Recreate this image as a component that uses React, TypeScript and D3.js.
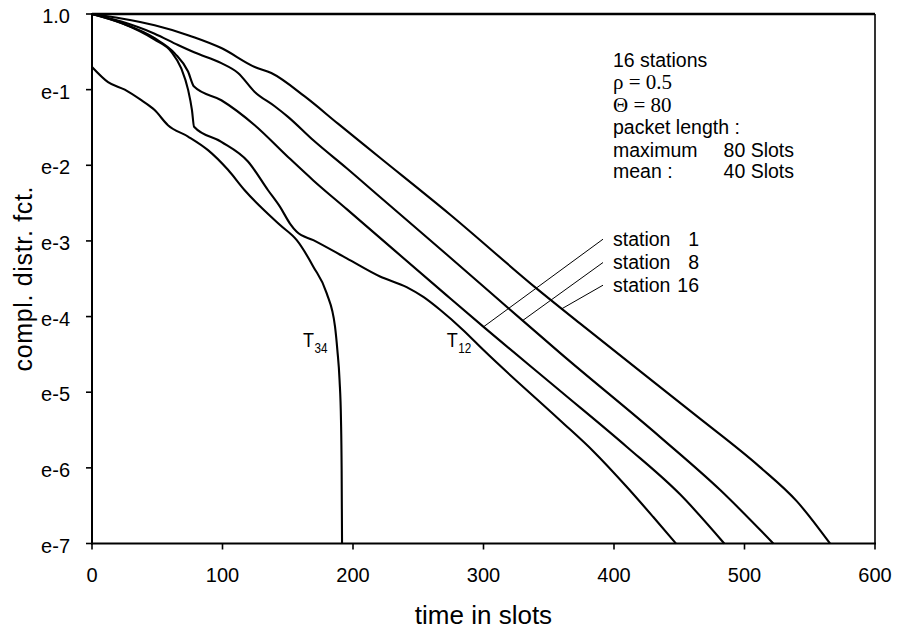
import React from "react";
import * as d3 from "d3";

// ---- data: time in slots (x) and log10 of compl. distr. fct. (y exponent) ----
const station16X = [0, 22.5, 48, 73.6, 78.7, 99.1, 124.7, 137.4, 163, 188.5, 220.7, 274.3, 340.8, 373.9, 460.8, 511.9, 540, 565.5];
const station16Y = [0, -0.06, -0.15, -0.28, -0.31, -0.45, -0.70, -0.78, -1.09, -1.45, -1.90, -2.65, -3.63, -4.09, -5.28, -5.99, -6.44, -7];

const station8X = [0, 22.5, 48, 65.9, 78.7, 99.1, 111.9, 124.7, 140, 150.2, 169.6, 195.2, 220.7, 271.8, 330.5, 358.6, 435.2, 481.2, 522.1];
const station8Y = [0, -0.10, -0.26, -0.41, -0.51, -0.65, -0.78, -1.03, -1.22, -1.36, -1.67, -2.04, -2.42, -3.18, -4.06, -4.48, -5.59, -6.29, -7];

const station1X = [0, 22.5, 48, 63.4, 73.6, 78.2, 99.1, 124.7, 150.2, 169.6, 195.2, 220.7, 271.8, 299.6, 358.6, 409.7, 450.6, 484.5];
const station1Y = [0, -0.12, -0.32, -0.52, -0.76, -0.96, -1.14, -1.47, -1.89, -2.20, -2.58, -2.96, -3.72, -4.13, -4.98, -5.72, -6.35, -7];

const t12X = [0, 22.5, 48, 60.8, 68.4, 73.6, 76.6, 78.2, 99.1, 119.5, 134.9, 144.1, 151.7, 156.9, 169.6, 195.2, 220.7, 241.1, 253.9, 266.7, 284.5, 299.8, 358.6, 384.1, 409.7, 430.1, 447.5];
const t12Y = [0, -0.12, -0.34, -0.50, -0.72, -1.00, -1.27, -1.49, -1.69, -1.95, -2.33, -2.55, -2.77, -2.88, -2.99, -3.23, -3.47, -3.61, -3.74, -3.91, -4.18, -4.44, -5.37, -5.78, -6.25, -6.65, -7];

const t34X = [0, 12.3, 25.1, 37.8, 48, 58.2, 73.6, 88.9, 104.2, 117, 144.1, 156.9, 169.6, 179.8, 186.2, 188, 189.7, 190.8, 191.3, 191.6];
const t34Y = [-0.70, -0.90, -1.00, -1.14, -1.27, -1.47, -1.62, -1.80, -2.06, -2.33, -2.79, -2.99, -3.34, -3.69, -4.13, -4.44, -4.84, -5.37, -6.03, -7];

const xTicks = [0, 100, 200, 300, 400, 500, 600];
const yTicks = [0, -1, -2, -3, -4, -5, -6, -7];
const yTickLabels = ["1.0", "e-1", "e-2", "e-3", "e-4", "e-5", "e-6", "e-7"];

const stationLabels = ["1", "8", "16"];
const stationLeaderSlots = [300, 330, 360];

const SANS = "Arial, 'Liberation Sans', Helvetica, sans-serif";
const SERIF = "'Times New Roman', 'Liberation Serif', Times, serif";

type Pt = [number, number];
const zip = (xs: number[], ys: number[]): Pt[] => xs.map((x, i) => [x, ys[i]]);

const interp = (pts: Pt[], x: number) => {
  for (let i = 1; i < pts.length; i++) {
    if (pts[i][0] >= x) {
      const [x0, y0] = pts[i - 1];
      const [x1, y1] = pts[i];
      return y0 + ((y1 - y0) * (x - x0)) / (x1 - x0);
    }
  }
  return pts[pts.length - 1][1];
};

export default function App() {
  const W = 897, H = 631;
  const left = 92, right = 875, top = 14, bottom = 543.5;
  const x = d3.scaleLinear().domain([0, 600]).range([left, right]);
  const y = d3.scaleLinear().domain([-7, 0]).range([bottom, top]);

  const line = d3
    .line<Pt>()
    .x((d) => x(d[0]))
    .y((d) => y(d[1]))
    .curve(d3.curveMonotoneX);

  const s16 = zip(station16X, station16Y);
  const s8 = zip(station8X, station8Y);
  const s1 = zip(station1X, station1Y);
  const t12 = zip(t12X, t12Y);
  const t34 = zip(t34X, t34Y);
  const series = [s16, s8, s1, t12, t34];
  const stationSeries = [s1, s8, s16];

  const labelBaselines = [245.7, 269, 291.7];
  const labelX = 613;
  const leaderEndX = 603;

  const infoLines = [66.7, 89.3, 111.7, 134.3, 156.7, 178.3];

  return (
    <svg
      width={W}
      height={H}
      viewBox={`0 0 ${W} ${H}`}
      style={{ position: "absolute", left: 0, top: 0, background: "#fff" }}
    >
      <rect x={0} y={0} width={W} height={H} fill="#fff" />
      {/* curves */}
      <g fill="none" stroke="#000" strokeWidth={2.1} strokeLinejoin="round">
        {series.map((s, i) => (
          <path key={i} d={line(s) || ""} />
        ))}
      </g>

      {/* frame */}
      <g stroke="#000" fill="none">
        <line x1={left} x2={right} y1={top} y2={top} strokeWidth={2.4} />
        <line x1={right} x2={right} y1={top} y2={bottom} strokeWidth={1.6} />
        <line x1={left} x2={left} y1={top - 1} y2={bottom + 1} strokeWidth={2} />
        <line x1={left - 1} x2={right + 1} y1={bottom} y2={bottom} strokeWidth={2} />
      </g>

      {/* x axis ticks */}
      <g fontFamily={SANS} fontSize={20} textAnchor="middle">
        {xTicks.map((t) => (
          <g key={t}>
            <line x1={x(t)} x2={x(t)} y1={bottom} y2={bottom + 6} stroke="#000" strokeWidth={1.6} />
            <text x={x(t)} y={581.5}>{t}</text>
          </g>
        ))}
      </g>

      {/* y axis ticks */}
      <g fontFamily={SANS} fontSize={20} textAnchor="end">
        {yTicks.map((t, i) => (
          <g key={t}>
            <line x1={left - 6} x2={left} y1={y(t)} y2={y(t)} stroke="#000" strokeWidth={1.6} />
            <text x={70} y={y(t) + 9}>{yTickLabels[i]}</text>
          </g>
        ))}
      </g>

      {/* axis titles */}
      <text x={(left + right) / 2} y={624} fontFamily={SANS} fontSize={26} textAnchor="middle">
        time in slots
      </text>
      <text
        transform={`translate(32,279) rotate(-90)`}
        fontFamily={SANS}
        fontSize={25}
        textAnchor="middle"
        textLength={185}
        lengthAdjust="spacing"
      >
        compl. distr. fct.
      </text>

      {/* parameter block */}
      <g fontFamily={SANS} fontSize={19.5}>
        <text x={613} y={infoLines[0]}>16 stations</text>
        <text x={613} y={infoLines[1]} fontFamily={SERIF} fontSize={21}>ρ = 0.5</text>
        <text x={613} y={infoLines[2]} fontFamily={SERIF} fontSize={21}>Θ = 80</text>
        <text x={613} y={infoLines[3]}>packet length :</text>
        <text x={613} y={infoLines[4]}>maximum</text>
        <text x={794} y={infoLines[4]} textAnchor="end">80 Slots</text>
        <text x={613} y={infoLines[5]}>mean :</text>
        <text x={794} y={infoLines[5]} textAnchor="end">40 Slots</text>
      </g>

      {/* station labels with leader lines */}
      <g fontFamily={SANS} fontSize={19.5}>
        {stationLabels.map((lab, i) => {
          const sx = stationLeaderSlots[i];
          const sy = interp(stationSeries[i], sx);
          return (
            <g key={lab}>
              <line
                x1={x(sx)}
                y1={y(sy)}
                x2={leaderEndX}
                y2={labelBaselines[i] - 6.5}
                stroke="#000"
                strokeWidth={1}
              />
              <text x={labelX} y={labelBaselines[i]}>station</text>
              <text x={699} y={labelBaselines[i]} textAnchor="end">{lab}</text>
            </g>
          );
        })}
      </g>

      {/* T labels */}
      <g fontFamily={SANS}>
        <text x={x(161.7)} y={y(-4.4)} fontSize={20} textLength={11} lengthAdjust="spacingAndGlyphs">
          T
        </text>
        <text x={x(161.7) + 11.5} y={y(-4.4) + 6.5} fontSize={14} textLength={13} lengthAdjust="spacingAndGlyphs">
          34
        </text>
        <text x={x(271.8)} y={y(-4.4)} fontSize={20} textLength={11} lengthAdjust="spacingAndGlyphs">
          T
        </text>
        <text x={x(271.8) + 11.5} y={y(-4.4) + 6.5} fontSize={14} textLength={13} lengthAdjust="spacingAndGlyphs">
          12
        </text>
      </g>
    </svg>
  );
}
